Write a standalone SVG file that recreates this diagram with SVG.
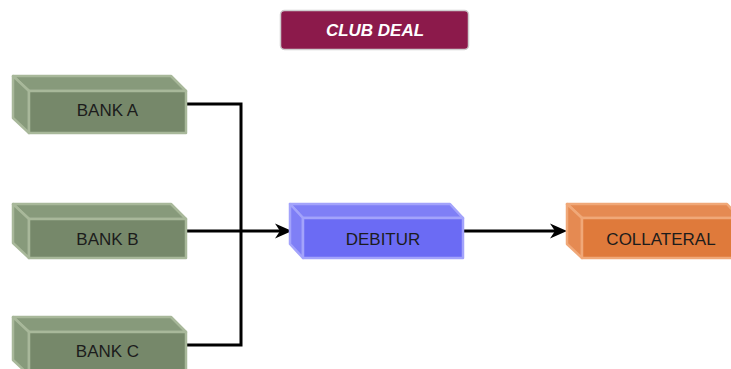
<svg xmlns="http://www.w3.org/2000/svg" width="731" height="369" viewBox="0 0 731 369">
  <style>
    .lbl { font-family: "Liberation Sans", Arial, sans-serif; font-size: 17px; fill: #1c1c1c; text-anchor: middle; dominant-baseline: central; }
    .bank .front { fill: #76886a; }
    .bank .side { fill: #879a7b; }
    .bank path, .bank rect { stroke: #a8b89a; stroke-width: 2.5; stroke-linejoin: round; }
    .deb .front { fill: #6b6bf4; }
    .deb .side { fill: #7f7ff6; }
    .deb path, .deb rect { stroke: #a3a3fb; stroke-width: 2.5; stroke-linejoin: round; }
    .col .front { fill: #df7a3b; }
    .col .side { fill: #e58a52; }
    .col path, .col rect { stroke: #f0a878; stroke-width: 2.5; stroke-linejoin: round; }
    .wire { fill: none; stroke: #000; stroke-width: 3; }
  </style>
  <defs>
    <marker id="arrow" markerUnits="userSpaceOnUse" markerWidth="17" markerHeight="17" refX="11" refY="8.5" orient="auto" overflow="visible">
      <path d="M0,1 L17,8.5 L0,16 L5,8.5 Z" fill="#000"/>
    </marker>
  </defs>

  <!-- title badge -->
  <g id="club-deal">
    <rect x="280.5" y="10.5" width="188" height="39" rx="4" fill="#8c1a4b" stroke="#cfcfcf" stroke-width="1.5"/>
    <text x="375" y="30" class="lbl" style="fill:#fff;font-weight:bold;font-style:italic;font-size:17px">CLUB DEAL</text>
  </g>

  <!-- connectors -->
  <g id="connectors">
    <path class="wire" d="M186,104 H241 V345 H186"/>
    <path class="wire" d="M186,231 H286" marker-end="url(#arrow)"/>
    <path class="wire" d="M463,231 H561" marker-end="url(#arrow)"/>
  </g>

  <!-- bank boxes: top face, left face, front face -->
  <g id="bank-a" class="bank">
    <path class="side" d="M13,76 H171 L186,91 H29 Z"/>
    <path class="side" d="M13,76 L29,91 V133 L13,118 Z"/>
    <rect class="front" x="29" y="91" width="157" height="42"/>
    <text x="107.5" y="110.5" class="lbl">BANK A</text>
  </g>

  <g id="bank-b" class="bank">
    <path class="side" d="M13,204 H171 L186,219 H29 Z"/>
    <path class="side" d="M13,204 L29,219 V258 L13,243 Z"/>
    <rect class="front" x="29" y="219" width="157" height="39"/>
    <text x="107.5" y="239" class="lbl">BANK B</text>
  </g>

  <g id="bank-c" class="bank">
    <path class="side" d="M13,317 H171 L186,332 H29 Z"/>
    <path class="side" d="M13,317 L29,332 V375 L13,360 Z"/>
    <rect class="front" x="29" y="332" width="157" height="43"/>
    <text x="107.5" y="351" class="lbl">BANK C</text>
  </g>

  <g id="debitur" class="deb">
    <path class="side" d="M290,204 H450 L463,218 H303 Z"/>
    <path class="side" d="M290,204 L303,218 V258 L290,244 Z"/>
    <rect class="front" x="303" y="218" width="160" height="40"/>
    <text x="383" y="239" class="lbl">DEBITUR</text>
  </g>

  <g id="collateral" class="col">
    <path class="side" d="M567,204 H727 L740,218 H582 Z"/>
    <path class="side" d="M567,204 L582,218 V258 L567,244 Z"/>
    <rect class="front" x="582" y="218" width="160" height="40"/>
    <text x="661" y="239" class="lbl">COLLATERAL</text>
  </g>
</svg>
